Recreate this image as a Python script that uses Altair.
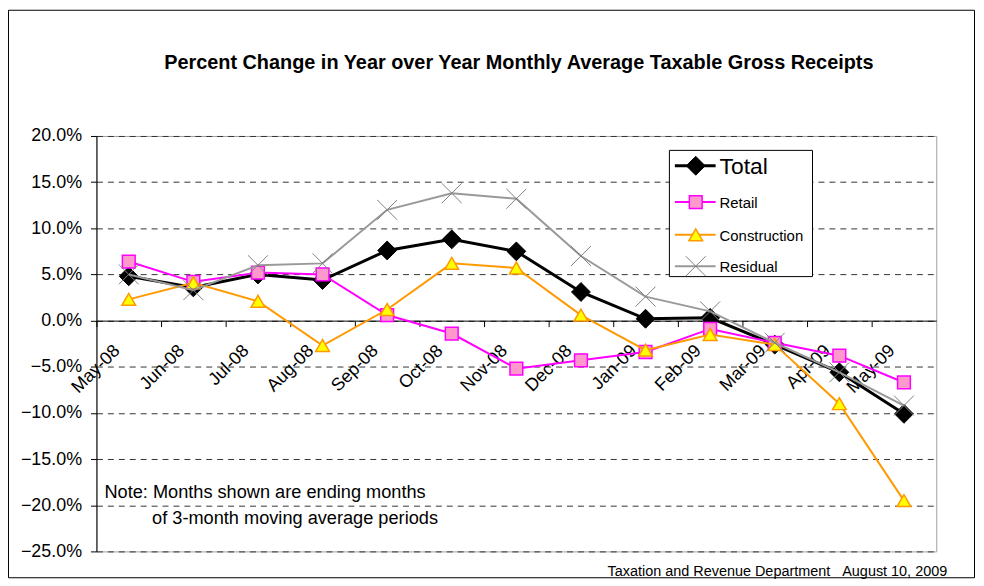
import altair as alt
import pandas as pd

months = ["May-08", "Jun-08", "Jul-08", "Aug-08", "Sep-08", "Oct-08", "Nov-08",
          "Dec-08", "Jan-09", "Feb-09", "Mar-09", "Apr-09", "May-09"]
total = [4.8, 3.6, 5.0, 4.4, 7.6, 8.8, 7.5, 3.1, 0.2, 0.3, -2.6, -5.6, -10.1]
retail = [6.4, 4.2, 5.2, 5.0, 0.6, -1.4, -5.2, -4.3, -3.4, -0.9, -2.4, -3.8, -6.7]
construction = [2.3, 4.1, 2.1, -2.7, 1.2, 6.2, 5.7, 0.6, -3.2, -1.5, -2.6, -9.0, -19.5]
residual = [5.0, 3.3, 6.0, 6.2, 12.0, 13.8, 13.2, 7.0, 2.6, 1.0, -2.4, -5.6, -9.2]
y_ticks = [-25, -20, -15, -10, -5, 0, 5, 10, 15, 20]
series_names = ["Total", "Retail", "Construction", "Residual"]
title_text = "Percent Change in Year over Year Monthly Average Taxable Gross Receipts"
note_lines = ["Note: Months shown are ending months", "of 3-month moving average periods"]
footer_text = "Taxation and Revenue Department\u00a0\u00a0\u00a0August 10, 2009"

W, H = 845, 418
FONT = "Liberation Sans"
X_SHAPE = "M-1,-1L1,1M1,-1L-1,1"

series_values = [total, retail, construction, residual]
df = pd.DataFrame({
    "month": [m for _ in series_names for m in months],
    "series": [s for s in series_names for _ in months],
    "value": [v for vals in series_values for v in vals],
})

x_enc = alt.X(
    "month:N", sort=months, bandPosition=0.5,
    scale=alt.Scale(type="band", domain=months, paddingInner=0, paddingOuter=0),
    axis=alt.Axis(title=None, bandPosition=0, labelAngle=315, labelAlign="right",
                  labelBaseline="top", labelOffset=-18, labelPadding=15, tickSize=6,
                  offset=-232.2, domainColor="black", tickColor="black",
                  labelColor="black", labelFontSize=18, labelFont=FONT, grid=False,
                  labelOverlap=False),
)
y_enc = alt.Y(
    "value:Q",
    scale=alt.Scale(domain=[-25, 20], nice=False, zero=False),
    axis=alt.Axis(title=None, values=y_ticks,
                  labelExpr="format(datum.value, '.1f') + '%'",
                  grid=True, gridDash=[6, 5], gridColor="#333333", gridWidth=1,
                  tickSize=6, labelPadding=9, labelFontSize=18, labelFont=FONT,
                  domainColor="black", tickColor="black", labelColor="black"),
)

styles = {
    "Total": dict(line="black", lw=3, shape="diamond", fill="black", stroke="black", sw=1, size=360, filled=True),
    "Retail": dict(line="#FF00FF", lw=2, shape="square", fill="#FF99CC", stroke="#FF00FF", sw=1.5, size=165, filled=True),
    "Construction": dict(line="#FF9900", lw=2, shape="triangle-up", fill="#FFFF00", stroke="#FF9900", sw=1.5, size=190, filled=True),
    "Residual": dict(line="#999999", lw=2, shape=X_SHAPE, fill=None, stroke="#808080", sw=1, size=400, filled=False),
}

base = alt.Chart(df)
layers = []

# outer frame
frame = alt.Chart(pd.DataFrame({"k": [0]})).mark_rect(
    filled=False, stroke="black", strokeWidth=1
).encode(x=alt.value(-88.5), x2=alt.value(883.5), y=alt.value(-126.5), y2=alt.value(444.5))
layers.append(frame)

def point_mark(st):
    kw = dict(shape=st["shape"], size=st["size"], stroke=st["stroke"],
              strokeWidth=st["sw"], opacity=1, filled=st["filled"])
    if st["filled"]:
        kw["fill"] = st["fill"]
    return kw

for name in series_names:
    st = styles[name]
    sub = base.transform_filter(alt.datum.series == name)
    layers.append(sub.mark_line(color=st["line"], strokeWidth=st["lw"]).encode(x=x_enc, y=y_enc))
    layers.append(sub.mark_point(**point_mark(st)).encode(x=x_enc, y=y_enc))

# legend
legend_box = alt.Chart(pd.DataFrame({"k": [0]})).mark_rect(
    fill="white", stroke="black", strokeWidth=1
).encode(x=alt.value(576.5), x2=alt.value(720.5), y=alt.value(14.5), y2=alt.value(141.5))
layers.append(legend_box)

legend_y = [30, 66.5, 99.5, 131]
legend_fs = [23, 15, 15, 15]
for name, ly, fs in zip(series_names, legend_y, legend_fs):
    st = styles[name]
    one = alt.Chart(pd.DataFrame({"name": [name]}))
    layers.append(one.mark_rule(color=st["line"], strokeWidth=st["lw"]).encode(
        x=alt.value(582), x2=alt.value(623), y=alt.value(ly)))
    layers.append(one.mark_point(**point_mark(st)).encode(x=alt.value(603), y=alt.value(ly)))
    layers.append(one.mark_text(align="left", baseline="middle", font=FONT, fontSize=fs,
                                color="black").encode(x=alt.value(627), y=alt.value(ly + 1),
                                                      text="name:N"))

# note
note_df = pd.DataFrame({"t": [note_lines[0]]})
layers.append(alt.Chart(note_df).mark_text(align="left", baseline="alphabetic", font=FONT,
                                           fontSize=18.3, color="black").encode(
    x=alt.value(8), y=alt.value(364.5), text="t:N"))
note_df2 = pd.DataFrame({"t": [note_lines[1]]})
layers.append(alt.Chart(note_df2).mark_text(align="left", baseline="alphabetic", font=FONT,
                                            fontSize=18.3, color="black").encode(
    x=alt.value(56), y=alt.value(390), text="t:N"))

# footer
layers.append(alt.Chart(pd.DataFrame({"t": [footer_text]})).mark_text(
    align="right", baseline="alphabetic", font=FONT, fontSize=14.5, color="black").encode(
    x=alt.value(856), y=alt.value(443), text="t:N"))

# title
layers.append(alt.Chart(pd.DataFrame({"t": [title_text]})).mark_text(
    align="center", baseline="alphabetic", font=FONT, fontSize=20, fontWeight="bold",
    color="black").encode(x=alt.value(425), y=alt.value(-67), text="t:N"))

chart = alt.layer(*layers).properties(
    width=W, height=H,
    autosize=alt.AutoSizeParams(type="none"),
    padding={"left": 89, "top": 127, "right": 40, "bottom": 26},
).configure(font=FONT, background="white").configure_view(
    stroke="#a0a0a0", strokeWidth=1
)

chart.save("out.html", embed_options={"renderer": "svg", "actions": False})
